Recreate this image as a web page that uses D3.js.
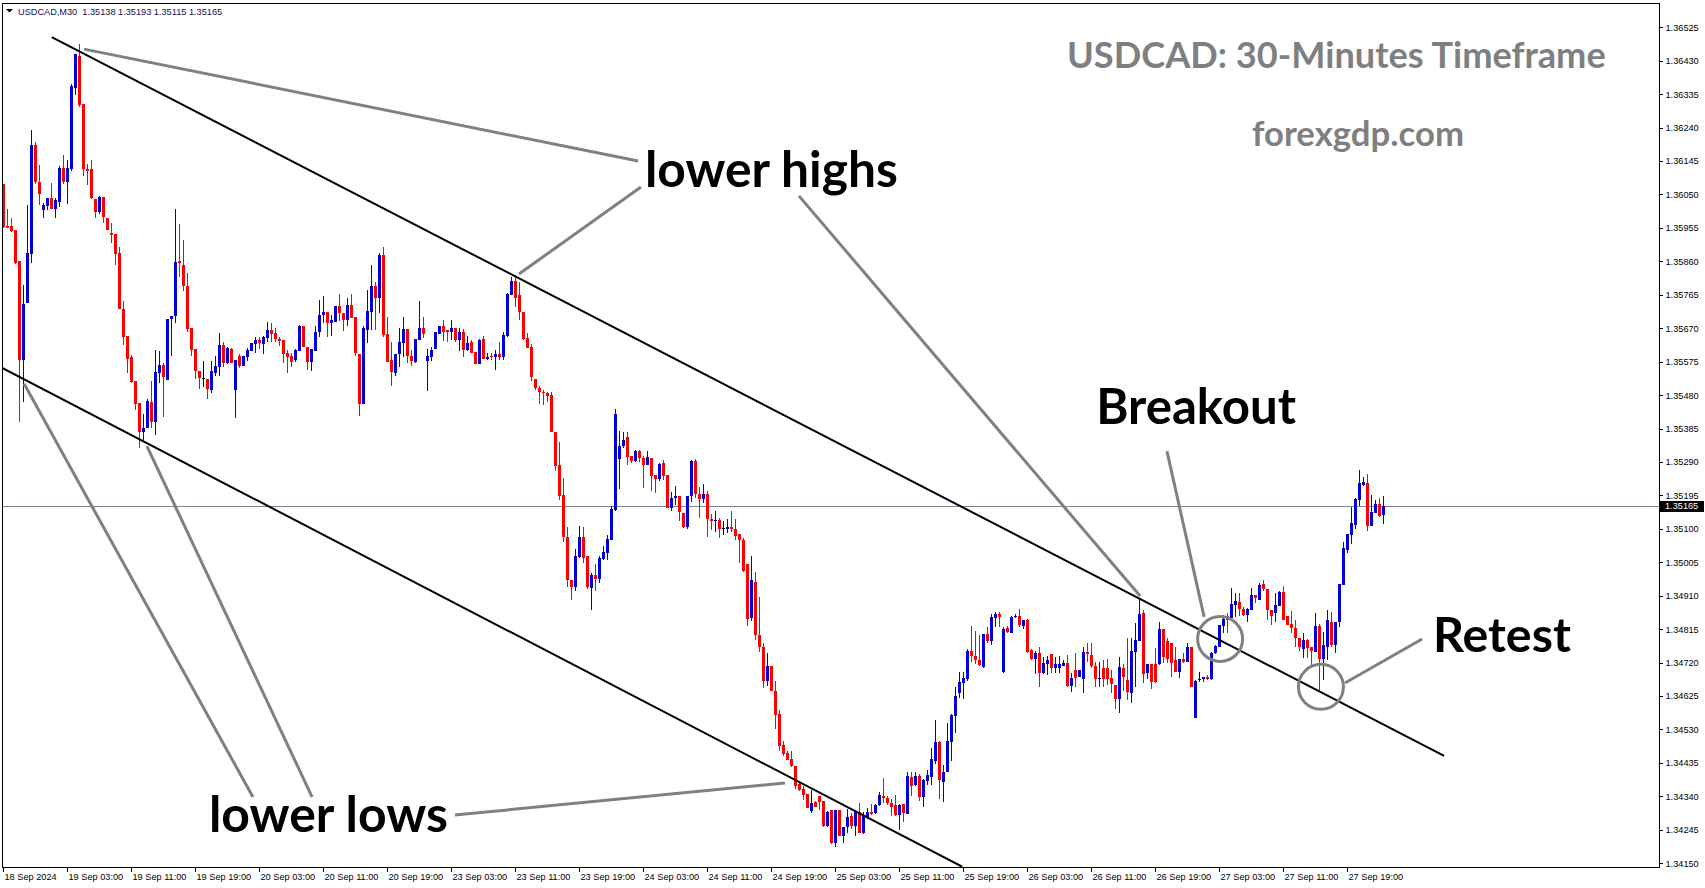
<!DOCTYPE html>
<html><head><meta charset="utf-8">
<script src="https://cdn.jsdelivr.net/npm/d3@7"></script>
<style>body{margin:0;background:#fff;overflow:hidden} svg{display:block}</style>
</head><body><svg id="c" width="1705" height="888"></svg>
<script>
// ---------------- DATA ----------------
const symbolInfo = "USDCAD,M30  1.35138 1.35193 1.35115 1.35165";
const titleText = "USDCAD: 30-Minutes Timeframe";
const siteText = "forexgdp.com";
const priceTicks = [1.36525,1.36430,1.36335,1.36240,1.36145,1.36050,1.35955,1.35860,1.35765,1.35670,1.35575,1.35480,1.35385,1.35290,1.35195,1.35100,1.35005,1.34910,1.34815,1.34720,1.34625,1.34530,1.34435,1.34340,1.34245,1.34150];
const timeLabels = ["18 Sep 2024","19 Sep 03:00","19 Sep 11:00","19 Sep 19:00","20 Sep 03:00","20 Sep 11:00","20 Sep 19:00","23 Sep 03:00","23 Sep 11:00","23 Sep 19:00","24 Sep 03:00","24 Sep 11:00","24 Sep 19:00","25 Sep 03:00","25 Sep 11:00","25 Sep 19:00","26 Sep 03:00","26 Sep 11:00","26 Sep 19:00","27 Sep 03:00","27 Sep 11:00","27 Sep 19:00"];
const barsPerTimeLabel = 16;
const lastPrice = 1.35165;
// OHLC of M30 candles, in points (0.00001) above 1.30000
const opens = [
6079,5960,5960,5949,5861,5579,5742,5880,6190,6085,
6005,6018,6040,6009,6028,6126,6085,6122,6353,6444,
6307,6122,6122,6037,6001,6042,5984,5941,5937,5883,
5724,5648,5588,5521,5458,5376,5387,5460,5404,5542,
5566,5524,5695,5704,5861,5851,5790,5671,5611,5549,
5528,5526,5495,5544,5561,5623,5570,5611,5495,5592,
5564,5589,5604,5625,5637,5625,5642,5665,5656,5640,
5637,5599,5591,5580,5606,5675,5618,5575,5606,5658,
5708,5717,5686,5689,5734,5713,5692,5736,5703,5597,
5455,5665,5717,5790,5755,5878,5654,5580,5544,5596,
5627,5668,5592,5573,5637,5672,5578,5589,5611,5654,
5677,5665,5660,5672,5637,5660,5608,5630,5602,5569,
5640,5582,5592,5587,5597,5589,5649,5765,5805,5765,
5717,5642,5618,5526,5500,5490,5485,5480,5376,5282,
5196,5078,4955,4936,5021,5076,5023,4931,4969,4957,
5014,5032,5068,5154,5298,5335,5360,5307,5293,5321,
5302,5280,5302,5253,5242,5286,5253,5160,5187,5192,
5146,5104,5192,5294,5199,5185,5199,5128,5121,5125,
5102,5099,5106,5100,5085,5068,4999,4848,4950,4797,
4765,4668,4709,4638,4574,4486,4462,4445,4427,4374,
4361,4346,4299,4323,4341,4327,4256,4301,4207,4301,
4226,4252,4284,4257,4295,4235,4282,4295,4292,4314,
4341,4334,4322,4315,4287,4317,4290,4396,4371,4398,
4337,4384,4396,4441,4495,4382,4408,4495,4568,4633,
4661,4673,4753,4739,4727,4707,4801,4780,4846,4858,
4692,4817,4805,4849,4851,4825,4841,4756,4730,4746,
4690,4716,4744,4704,4706,4710,4718,4654,4699,4678,
4673,4751,4742,4710,4673,4706,4706,4677,4656,4616,
4706,4671,4635,4749,4780,4860,4690,4716,4716,4716,
4815,4780,4777,4726,4692,4730,4723,4763,4562,4673,
4673,4680,4673,4746,4765,4824,4851,4848,4884,4893,
4872,4855,4870,4912,4898,4942,4929,4870,4860,4881,
4920,4851,4829,4817,4789,4759,4784,4763,4751,4824,
4730,4765,4836,4770,4834,4941,5040,5083,5111,5182,
5225,5231,5108,5146,5171,5138];
const highs = [
6081,6008,5984,5949,5861,5793,6020,6233,6198,6133,
6025,6040,6082,6039,6131,6162,6148,6365,6449,6477,
6307,6138,6148,6037,6045,6042,5984,5970,5937,5901,
5748,5648,5594,5521,5458,5426,5470,5521,5608,5605,
5571,5697,5706,6010,5967,5920,5828,5671,5611,5549,
5577,5526,5577,5591,5656,5632,5618,5613,5580,5596,
5592,5613,5627,5646,5646,5649,5687,5684,5672,5646,
5637,5608,5599,5610,5679,5677,5618,5611,5677,5750,
5762,5717,5708,5734,5767,5713,5755,5767,5703,5597,
5677,5779,5850,5800,5883,5900,5703,5632,5596,5670,
5703,5668,5608,5640,5748,5703,5610,5618,5660,5677,
5694,5665,5694,5672,5672,5667,5649,5637,5602,5640,
5649,5599,5599,5608,5630,5660,5769,5815,5821,5800,
5717,5656,5625,5526,5505,5495,5490,5490,5376,5348,
5244,5106,4955,5042,5108,5104,5023,4974,5000,5023,
5052,5083,5165,5441,5378,5376,5374,5307,5324,5324,
5307,5321,5302,5253,5288,5296,5253,5204,5222,5192,
5146,5193,5296,5298,5218,5228,5208,5142,5151,5130,
5121,5127,5151,5127,5085,5073,4999,5023,4977,4905,
4775,4746,4709,4668,4584,4498,4469,4470,4427,4382,
4368,4346,4358,4328,4341,4327,4299,4301,4301,4301,
4254,4303,4292,4301,4322,4295,4308,4318,4318,4351,
4391,4341,4332,4344,4318,4317,4410,4410,4410,4403,
4388,4415,4477,4557,4498,4429,4547,4574,4650,4694,
4694,4758,4824,4810,4798,4801,4820,4858,4865,4865,
4820,4824,4851,4857,4871,4841,4843,4758,4753,4765,
4735,4739,4744,4737,4739,4727,4742,4690,4746,4699,
4763,4775,4777,4723,4723,4727,4730,4699,4656,4737,
4716,4789,4789,4832,4900,4870,4716,4716,4761,4834,
4815,4789,4777,4765,4730,4746,4777,4765,4671,4694,
4680,4685,4749,4770,4827,4855,4860,4933,4917,4917,
4879,4874,4931,4912,4945,4955,4929,4870,4917,4922,
4938,4851,4867,4841,4789,4803,4786,4765,4862,4830,
4808,4870,4865,4836,4943,5064,5085,5163,5187,5267,
5248,5255,5196,5182,5187,5193];
const lows = [
5954,5954,5944,5852,5404,5461,5742,5856,6081,6021,
5984,6006,6008,5984,6015,6081,6024,6117,6333,6299,
6103,6077,6038,5984,5995,5968,5949,5911,5849,5724,
5623,5543,5515,5438,5331,5352,5387,5387,5366,5513,
5418,5524,5592,5686,5816,5776,5660,5591,5526,5497,
5504,5469,5485,5534,5534,5561,5568,5570,5416,5556,
5564,5578,5604,5599,5610,5597,5632,5632,5632,5620,
5572,5544,5561,5575,5604,5616,5552,5549,5604,5646,
5684,5646,5648,5689,5691,5663,5675,5698,5591,5422,
5455,5627,5665,5665,5713,5646,5573,5507,5533,5561,
5589,5570,5564,5570,5637,5642,5492,5578,5611,5654,
5635,5632,5637,5632,5604,5589,5606,5599,5569,5569,
5582,5580,5580,5550,5580,5580,5646,5765,5731,5694,
5637,5615,5520,5495,5455,5452,5461,5376,5263,5182,
5064,4936,4898,4922,5016,5002,4929,4870,4924,4947,
5012,5012,5068,5151,5212,5331,5282,5286,5291,5291,
5217,5280,5208,5203,5237,5239,5160,5152,5168,5122,
5103,5100,5175,5187,5132,5173,5076,5097,5092,5073,
5083,5087,5092,5068,5002,4977,4825,4839,4784,4751,
4647,4654,4638,4531,4470,4455,4442,4424,4361,4356,
4330,4306,4294,4309,4301,4254,4254,4205,4197,4226,
4207,4235,4246,4226,4235,4233,4275,4287,4290,4313,
4322,4316,4285,4284,4243,4268,4290,4341,4368,4328,
4311,4372,4372,4432,4332,4325,4408,4439,4521,4618,
4617,4669,4723,4716,4709,4704,4777,4770,4822,4822,
4690,4803,4805,4846,4822,4815,4748,4726,4688,4650,
4688,4685,4691,4691,4691,4710,4652,4637,4650,4678,
4633,4723,4704,4650,4650,4652,4656,4633,4587,4576,
4640,4614,4606,4650,4780,4661,4673,4644,4661,4713,
4718,4720,4678,4692,4675,4720,4723,4650,4562,4666,
4666,4671,4671,4744,4765,4803,4805,4841,4849,4852,
4852,4834,4870,4890,4898,4922,4841,4827,4834,4881,
4841,4827,4805,4765,4754,4732,4732,4709,4751,4637,
4671,4727,4765,4746,4820,4941,5031,5057,5099,5165,
5223,5095,5108,5146,5133,5115];
const closes = [
5958,5956,5946,5854,5579,5739,5883,6190,6085,6051,
6020,6040,6009,6034,6126,6085,6126,6359,6449,6304,
6122,6117,6040,6001,6042,5987,5949,5935,5882,5724,
5646,5583,5518,5455,5376,5387,5463,5404,5545,5566,
5530,5697,5706,5857,5854,5790,5668,5608,5549,5528,
5528,5497,5549,5563,5623,5570,5615,5570,5580,5564,
5592,5608,5627,5637,5627,5646,5665,5654,5640,5635,
5596,5589,5575,5608,5675,5618,5575,5611,5660,5708,
5717,5686,5692,5734,5713,5692,5736,5698,5599,5455,
5672,5719,5790,5755,5878,5651,5573,5547,5596,5630,
5668,5592,5577,5640,5672,5654,5592,5608,5660,5677,
5660,5660,5672,5637,5660,5608,5627,5599,5569,5637,
5582,5589,5589,5597,5589,5651,5767,5805,5755,5717,
5640,5615,5530,5500,5490,5485,5478,5376,5279,5192,
5078,4955,4934,5023,5076,5016,4934,4969,4958,5016,
5033,5070,5156,5425,5335,5353,5305,5294,5321,5302,
5282,5303,5251,5242,5284,5251,5160,5189,5192,5147,
5106,5192,5294,5199,5185,5199,5127,5121,5125,5100,
5102,5106,5100,5081,5067,4980,4844,4955,4797,4765,
4668,4710,4638,4571,4484,4461,4443,4426,4370,4358,
4344,4308,4322,4311,4325,4256,4295,4207,4301,4228,
4252,4281,4256,4295,4237,4284,4295,4290,4314,4344,
4334,4320,4311,4287,4316,4294,4398,4368,4398,4339,
4387,4401,4446,4494,4385,4408,4498,4571,4625,4666,
4675,4754,4739,4726,4713,4801,4780,4849,4858,4849,
4816,4806,4849,4853,4827,4841,4751,4730,4746,4691,
4718,4727,4706,4715,4715,4718,4654,4677,4675,4699,
4751,4744,4709,4673,4677,4673,4673,4658,4616,4707,
4678,4637,4754,4784,4858,4688,4716,4664,4664,4815,
4735,4730,4718,4694,4730,4723,4763,4652,4669,4673,
4680,4673,4746,4767,4827,4843,4841,4886,4895,4871,
4855,4871,4912,4903,4941,4928,4868,4852,4884,4920,
4841,4827,4817,4789,4765,4784,4761,4754,4824,4729,
4770,4841,4770,4836,4943,5045,5085,5116,5184,5231,
5234,5108,5149,5171,5137,5165];
// channel lines: [barIndex, price]
const upperTrendline = [[12.1, 1.36497], [360.2, 1.34455]];
const lowerTrendline = [[-0.4, 1.35558], [239.7, 1.34140]];
// grey pointer segments: [bar1, price1, bar2, price2]
const pointerSegments = [
  [20.2, 1.36463, 158.7, 1.36145],
  [159.4, 1.36071, 128.9, 1.35824],
  [198.9, 1.36046, 284.2, 1.34909],
  [62.4, 1.34338, 5.2, 1.35512],
  [77.2, 1.34338, 35.9, 1.35335],
  [112.9, 1.34287, 195.4, 1.34378],
  [290.9, 1.35321, 300.2, 1.34850],
  [354.7, 1.34787, 335.4, 1.34662]
];
const highlightCircles = [[304.2, 1.34787], [329.4, 1.34651]];
// annotation labels anchored at [bar, price] (left / baseline)
const annotations = [
  {text: "lower highs", bar: 160.4, price: 1.36071, width: 253},
  {text: "lower lows", bar: 51.4, price: 1.34239, width: 239},
  {text: "Breakout", bar: 273.2, price: 1.35398, width: 200},
  {text: "Retest", bar: 357.4, price: 1.34749, width: 138}
];

// ---------------- DRAW ----------------
const svg = d3.select("#c");
const plot = {left: 2, top: 3, right: 1659, bottom: 867};
const toPrice = v => 1.3 + v / 100000;
const bars = opens.map((o, i) => ({i, o: toPrice(o), h: toPrice(highs[i]), l: toPrice(lows[i]), c: toPrice(closes[i])}));

const x = d3.scaleLinear().domain([0, 1]).range([3.33, 7.33]);
const y = d3.scaleLinear().domain([1.34150, 1.36525]).range([863.2, 27.3]);

svg.append("rect").attr("width", 1705).attr("height", 888).attr("fill", "#fff");

svg.append("clipPath").attr("id", "pc").append("rect")
  .attr("x", plot.left).attr("y", plot.top)
  .attr("width", plot.right - plot.left).attr("height", plot.bottom - plot.top);
const g = svg.append("g").attr("clip-path", "url(#pc)");

// current price line
g.append("line").attr("x1", plot.left).attr("x2", plot.right)
  .attr("y1", Math.round(y(lastPrice)) + 0.5).attr("y2", Math.round(y(lastPrice)) + 0.5)
  .attr("stroke", "#778899").attr("stroke-width", 1);

// candles
const BULL = "#0000dd", BEAR = "#ff0000", DOJI = "#000000";
const colorOf = d => d.c > d.o ? BULL : (d.c < d.o ? BEAR : DOJI);
const cg = g.append("g").attr("shape-rendering", "crispEdges");
const cand = cg.selectAll("g.c").data(bars).join("g").attr("class", "c");
cand.append("line")
  .attr("x1", d => Math.round(x(d.i)) + 0.5).attr("x2", d => Math.round(x(d.i)) + 0.5)
  .attr("y1", d => y(d.h)).attr("y2", d => y(d.l))
  .attr("stroke", colorOf).attr("stroke-width", 1);
cand.append("rect")
  .attr("x", d => Math.round(x(d.i)) - 1).attr("width", 3)
  .attr("y", d => y(Math.max(d.o, d.c)))
  .attr("height", d => Math.max(1, Math.abs(y(d.o) - y(d.c))))
  .attr("fill", colorOf);

// channel lines
const line = d3.line().x(d => x(d[0])).y(d => y(d[1]));
[upperTrendline, lowerTrendline].forEach(t => {
  g.append("path").attr("d", line(t)).attr("stroke", "#000").attr("stroke-width", 2).attr("fill", "none");
});

// grey pointer lines and circles
g.selectAll("line.ptr").data(pointerSegments).join("line").attr("class", "ptr")
  .attr("x1", d => x(d[0])).attr("y1", d => y(d[1]))
  .attr("x2", d => x(d[2])).attr("y2", d => y(d[3]))
  .attr("stroke", "#808080").attr("stroke-width", 3);
g.selectAll("circle.hl").data(highlightCircles).join("circle").attr("class", "hl")
  .attr("cx", d => x(d[0])).attr("cy", d => y(d[1])).attr("r", 22.5)
  .attr("fill", "none").attr("stroke", "#808080").attr("stroke-width", 3);

// fit helper
function fit(sel, target) {
  const w = sel.node().getComputedTextLength();
  const fs = parseFloat(sel.attr("font-size"));
  sel.attr("font-size", (fs * target / w).toFixed(2));
}
// annotation labels
annotations.forEach(a => {
  const t = svg.append("text").attr("x", x(a.bar)).attr("y", y(a.price))
    .attr("font-family", "Lato, 'Open Sans', sans-serif").attr("font-weight", 700)
    .attr("font-size", 48).attr("fill", "#000").text(a.text);
  fit(t, a.width);
});
// title & site
const tt = svg.append("text").attr("x", 1067).attr("y", 68)
  .attr("font-family", "Lato, 'Open Sans', sans-serif").attr("font-weight", 700)
  .attr("font-size", 36).attr("fill", "#7f7f7f").text(titleText);
fit(tt, 539);
const st = svg.append("text").attr("x", 1252).attr("y", 146)
  .attr("font-family", "Lato, 'Open Sans', sans-serif").attr("font-weight", 700)
  .attr("font-size", 36).attr("fill", "#7f7f7f").text(siteText);
fit(st, 212);

// frame
svg.append("rect").attr("x", plot.left + 0.5).attr("y", plot.top + 0.5)
  .attr("width", plot.right - plot.left).attr("height", plot.bottom - plot.top)
  .attr("fill", "none").attr("stroke", "#000").attr("stroke-width", 1).attr("shape-rendering", "crispEdges");

const axisFont = "'Liberation Sans', Arial, sans-serif";
// price axis
const ya = svg.append("g").attr("transform", `translate(${plot.right + 0.5},0)`)
  .call(d3.axisRight(y).tickValues(priceTicks).tickSize(3).tickPadding(3).tickFormat(d3.format(".5f")));
ya.select(".domain").remove();
ya.selectAll("line").attr("stroke", "#000").attr("shape-rendering", "crispEdges");
ya.selectAll("text").attr("font-family", axisFont).attr("font-size", 9.2).attr("fill", "#000");

// time axis
const tickBars = timeLabels.map((_, k) => k * barsPerTimeLabel);
const xa = svg.append("g").attr("transform", `translate(0,${plot.bottom + 0.5})`)
  .call(d3.axisBottom(x).tickValues(tickBars).tickSize(4).tickPadding(2)
    .tickFormat((d, k) => timeLabels[k]));
xa.select(".domain").remove();
xa.selectAll(".tick").attr("transform", d => `translate(${Math.round(x(d)) + 0.5},0)`);
xa.selectAll("line").attr("stroke", "#000").attr("shape-rendering", "crispEdges");
xa.selectAll("text").attr("font-family", axisFont).attr("font-size", 9.2).attr("fill", "#000")
  .attr("text-anchor", "start").attr("dx", 1);

// current price tag
const ly = y(lastPrice);
svg.append("rect").attr("x", plot.right + 1).attr("y", Math.round(ly) - 5).attr("width", 44).attr("height", 11).attr("fill", "#000");
svg.append("text").attr("x", plot.right + 6).attr("y", ly + 3.5)
  .attr("font-family", axisFont).attr("font-size", 9.2).attr("fill", "#fff").text(d3.format(".5f")(lastPrice));

// header
svg.append("path").attr("d", "M6,9 L13,9 L9.5,12.5 Z").attr("fill", "#000");
svg.append("text").attr("x", 18).attr("y", 14.5).attr("font-family", axisFont).attr("font-size", 9.2)
  .attr("fill", "#10104a").attr("xml:space", "preserve").style("white-space", "pre").text(symbolInfo);
</script></body></html>
